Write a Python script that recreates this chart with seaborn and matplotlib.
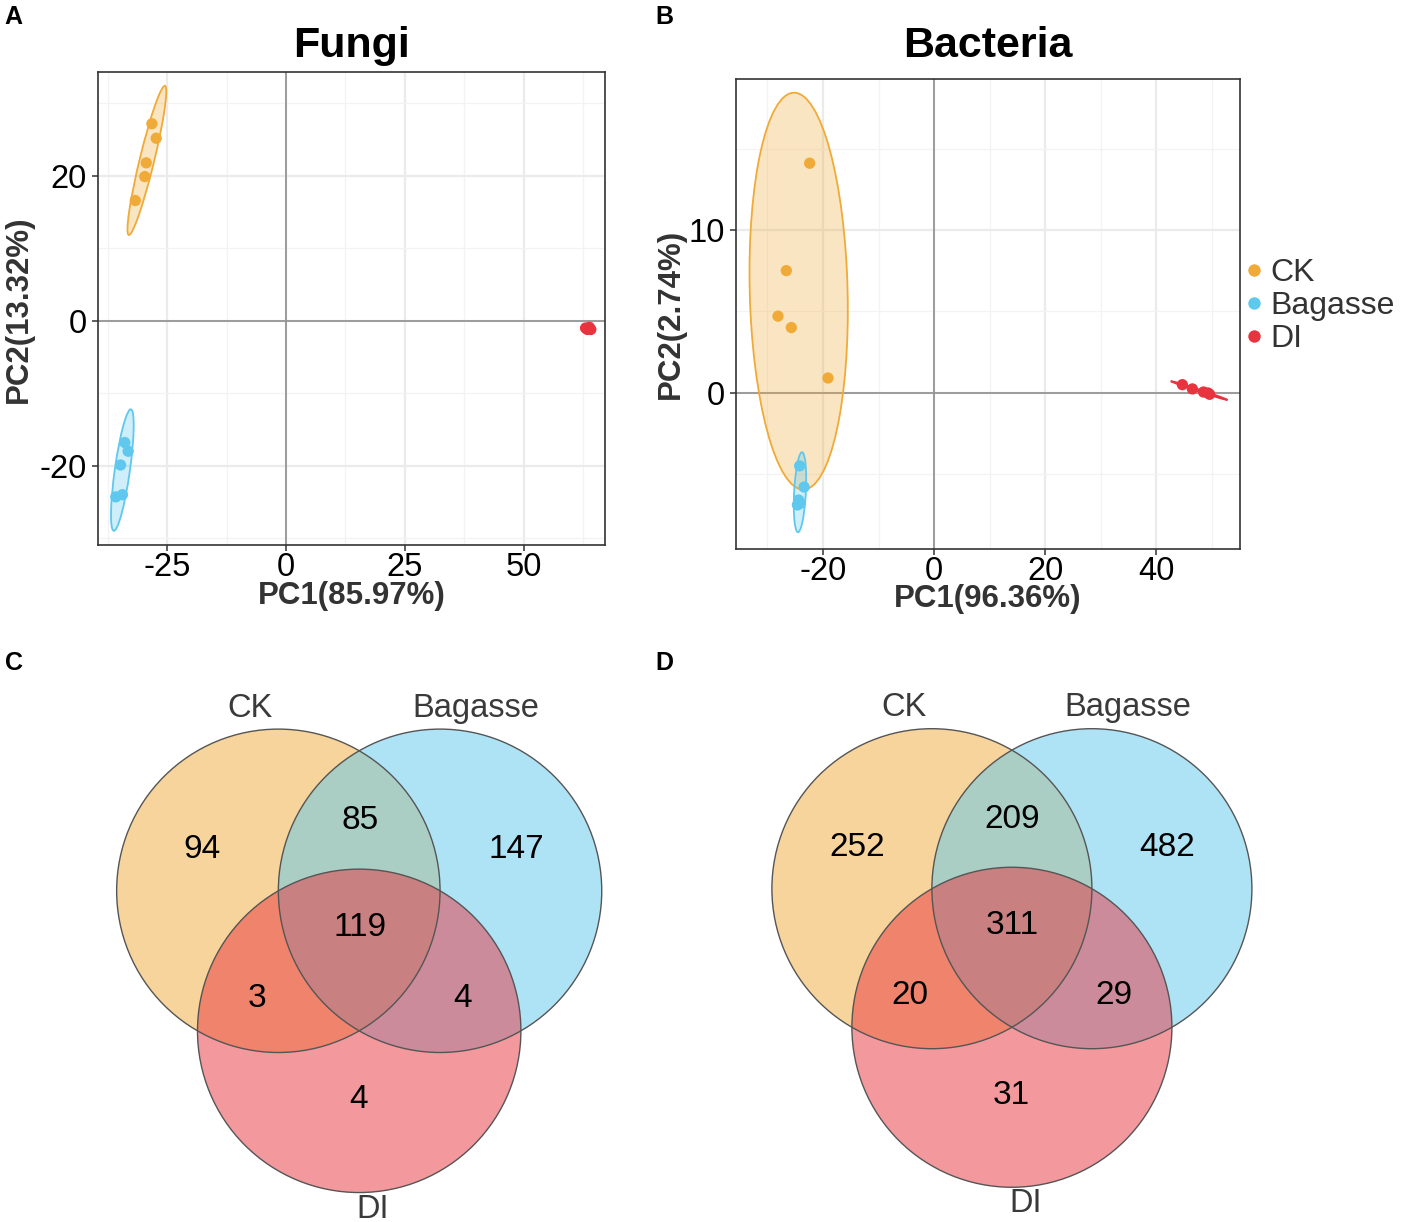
import numpy as np
import pandas as pd
import matplotlib
matplotlib.use("Agg")
import matplotlib.pyplot as plt
import seaborn as sns
from matplotlib.patches import Ellipse, Circle
from matplotlib.ticker import FixedLocator

# groups and colours
groups = ["CK", "Bagasse", "DI"]
colors = ["#F0AA38", "#5EC8EE", "#E8343F"]

# Fungi PCA scores (panel A)
fungi_ck_x = [-28.2, -27.3, -29.4, -29.7, -31.7]
fungi_ck_y = [27.2, 25.2, 21.8, 19.9, 16.6]
fungi_bag_x = [-33.9, -33.2, -34.8, -34.4, -35.8]
fungi_bag_y = [-16.8, -18.0, -19.9, -24.0, -24.3]
fungi_di_x = [63.0, 63.4, 63.8, 64.1, 63.6]
fungi_di_y = [-1.0, -1.2, -0.9, -1.2, -1.1]

# Bacteria PCA scores (panel B)
bact_ck_x = [-22.4, -26.6, -28.1, -25.7, -19.1]
bact_ck_y = [14.1, 7.5, 4.7, 4.0, 0.9]
bact_bag_x = [-24.2, -23.4, -24.4, -24.6, -24.1]
bact_bag_y = [-4.5, -5.8, -6.6, -6.9, -6.8]
bact_di_x = [44.7, 46.5, 48.5, 49.3, 49.6]
bact_di_y = [0.49, 0.23, 0.04, -0.02, -0.10]

# Venn counts: CK only, Bagasse only, CK&Bagasse, DI only, CK&DI, Bagasse&DI, all three
fungi_venn = [94, 147, 85, 4, 3, 4, 119]
bact_venn = [252, 482, 209, 31, 20, 29, 311]

# venn layout (units of circle radius)
venn_centers = [(-0.5, 0.0), (0.5, 0.0), (0.0, -0.866)]
region_pos = [(-0.97, 0.255), (0.97, 0.255), (0.003, 0.435), (-0.005, -1.29),
              (-0.635, -0.668), (0.637, -0.668), (0.005, -0.228)]
set_label_pos = [(-0.673, 1.13), (0.723, 1.13), (0.083, -1.97)]

W, H = 1402, 1222

sns.set_style("white")
plt.rcParams['font.family'] = ['Liberation Sans', 'DejaVu Sans']
plt.rcParams['axes.unicode_minus'] = False

fig = plt.figure(figsize=(W / 100, H / 100), dpi=100)


def frac(left, top, right, bottom):
    # pixel box -> figure fraction [l, b, w, h]
    return [left / W, 1 - bottom / H, (right - left) / W, (bottom - top) / H]


def make_df(cx, cy, bx, by, dx, dy):
    return pd.DataFrame({
        "PC1": cx + bx + dx,
        "PC2": cy + by + dy,
        "group": ["CK"] * len(cx) + ["Bagasse"] * len(bx) + ["DI"] * len(dx),
    })


def conf_ellipse(ax, x, y, color, level=0.95):
    x = np.asarray(x)
    y = np.asarray(y)
    vals, vecs = np.linalg.eigh(np.cov(x, y))
    k = np.sqrt(-2 * np.log(1 - level))
    angle = np.degrees(np.arctan2(vecs[1, 1], vecs[0, 1]))
    w = 2 * k * np.sqrt(max(vals[1], 0))
    h = 2 * k * np.sqrt(max(vals[0], 0))
    c = (x.mean(), y.mean())
    ax.add_patch(Ellipse(c, w, h, angle=angle, facecolor=color, alpha=0.3,
                         edgecolor="none", zorder=2))
    ax.add_patch(Ellipse(c, w, h, angle=angle, fill=False, edgecolor=color,
                         lw=1.3, zorder=2.1))


def pca_panel(ax, df, xlim, ylim, xmaj, xmin, ymaj, ymin, xlabel, ylabel, title,
              title_pad, ylab_x, legend=False):
    ax.set_xlim(xlim)
    ax.set_ylim(ylim)
    ax.xaxis.set_major_locator(FixedLocator(xmaj))
    ax.xaxis.set_minor_locator(FixedLocator(xmin))
    ax.yaxis.set_major_locator(FixedLocator(ymaj))
    ax.yaxis.set_minor_locator(FixedLocator(ymin))
    ax.set_axisbelow(True)
    ax.grid(which="major", color="#EBEBEB", lw=1.6)
    ax.grid(which="minor", color="#F3F3F3", lw=0.9)
    ax.axhline(0, color="#959595", lw=1.3, zorder=1.5)
    ax.axvline(0, color="#959595", lw=1.3, zorder=1.5)

    for g, col in zip(groups, colors):
        sub = df[df["group"] == g]
        conf_ellipse(ax, sub["PC1"], sub["PC2"], col)

    sns.scatterplot(data=df, x="PC1", y="PC2", hue="group", hue_order=groups,
                    palette=colors, s=66, linewidth=0, ax=ax, zorder=3,
                    legend=legend)

    for s in ax.spines.values():
        s.set_color("#333333")
        s.set_linewidth(1.2)
    ax.tick_params(axis="both", which="major", length=4, width=1.1, color="#333333",
                   labelsize=23.5, labelcolor="black", direction="out",
                   bottom=True, left=True)
    ax.tick_params(axis="x", pad=1)
    ax.tick_params(axis="y", pad=4)
    ax.tick_params(which="minor", length=0)
    ax.set_xlabel(xlabel, fontsize=22.5, fontweight="bold", color="#333333")
    ax.set_ylabel(ylabel, fontsize=22.5, fontweight="bold", color="#333333")
    ax.xaxis.set_label_coords(0.5, -0.076)
    ax.yaxis.set_label_coords(ylab_x, 0.5)
    ax.set_title(title, fontsize=31, fontweight="bold", color="black", pad=title_pad)


# ---- A: Fungi PCA
axA = fig.add_axes(frac(97.9, 72.5, 604.6, 545.2))
dfA = make_df(fungi_ck_x, fungi_ck_y, fungi_bag_x, fungi_bag_y, fungi_di_x, fungi_di_y)
pca_panel(axA, dfA, (-39.56, 67.0), (-30.97, 34.27),
          [-25, 0, 25, 50], [-37.5, -12.5, 12.5, 37.5, 62.5],
          [-20, 0, 20], [-30, -10, 10, 30],
          "PC1(85.97%)", "PC2(13.32%)", "Fungi", 11, -0.126)

# ---- B: Bacteria PCA
axB = fig.add_axes(frac(735.5, 78.6, 1239.6, 548.7))
dfB = make_df(bact_ck_x, bact_ck_y, bact_bag_x, bact_bag_y, bact_di_x, bact_di_y)
pca_panel(axB, dfB, (-35.75, 55.0), (-9.59, 19.3),
          [-20, 0, 20, 40], [-30, -10, 10, 30, 50],
          [0, 10], [-5, 5, 15],
          "PC1(96.36%)", "PC2(2.74%)", "Bacteria", 15.5, -0.098, legend=True)
handles, labels = axB.get_legend_handles_labels()
axB.legend(handles, labels, loc="center left",
           bbox_to_anchor=(1246 / W, 1 - 306 / H), bbox_transform=fig.transFigure,
           frameon=False, fontsize=23, labelcolor="#333333", handlelength=0.5,
           handletextpad=0.25, labelspacing=0.1, borderpad=0, borderaxespad=0,
           markerscale=1.1)


# ---- C / D: Venn diagrams
def venn_panel(cx, cy, r, counts):
    ax = fig.add_axes(frac(cx - 1.6 * r, cy - 1.3 * r, cx + 1.6 * r, cy + 2.0 * r))
    ax.set_xlim(-1.6, 1.6)
    ax.set_ylim(-2.0, 1.3)
    ax.axis("off")
    for (x, y), col in zip(venn_centers, colors):
        ax.add_patch(Circle((x, y), 1.0, facecolor=col, alpha=0.5, edgecolor="none"))
    for (x, y) in venn_centers:
        ax.add_patch(Circle((x, y), 1.0, fill=False, edgecolor="#555555", lw=1.0))
    for (x, y), n in zip(region_pos, counts):
        ax.text(x, y, str(n), ha="center", va="center", fontsize=24, color="black")
    for (x, y), g in zip(set_label_pos, groups):
        ax.text(x, y, g, ha="center", va="center", fontsize=23.5, color="#3A3A3A",
                clip_on=False)
    return ax


venn_panel(359.2, 890.8, 161.7, fungi_venn)
venn_panel(1011.9, 888.7, 160.0, bact_venn)

# panel letters
for letter, x, y in [("A", 4, 24), ("B", 655, 24), ("C", 5, 670), ("D", 655, 670)]:
    fig.text(x / W, 1 - y / H, letter, fontsize=18, fontweight="bold",
             color="black", ha="left", va="baseline")

fig.savefig("out.png", dpi=100)
